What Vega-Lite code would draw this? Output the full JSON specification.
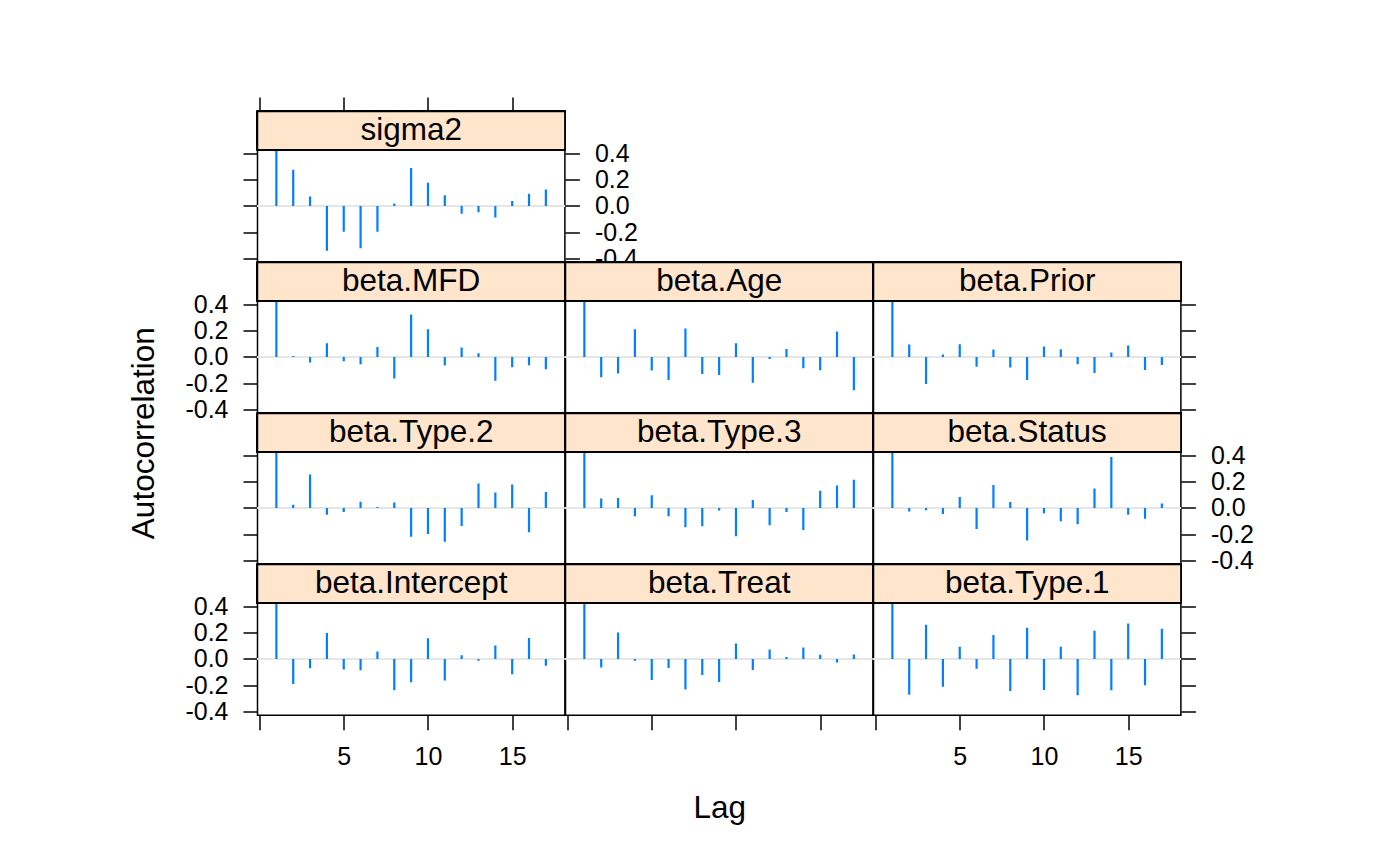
{
  "$schema": "https://vega.github.io/schema/vega-lite/v6.json",
  "padding": {"left": 126.5, "top": 95.5, "right": 5, "bottom": 5},
  "background": "white",
  "config": {
    "font": "Liberation Sans",
    "view": {"stroke": "black", "strokeWidth": 1.5},
    "concat": {"spacing": 0},
    "axis": {
      "domain": false, "grid": false, "ticks": true,
      "tickColor": "black", "tickWidth": 1.5, "tickSize": 14.5,
      "labelFont": "Liberation Sans", "labelFontSize": 25, "labelColor": "black",
      "labelPadding": 15, "labelOverlap": false, "labelFlush": false,
      "titleFont": "Liberation Sans", "titleFontSize": 31.5, "titleFontWeight": "normal", "titleColor": "black"
    }
  },
  "data": {"values": [
    {"panel":"sigma2","lag":1,"acf":1},{"panel":"sigma2","lag":2,"acf":0.275},{"panel":"sigma2","lag":3,"acf":0.071},{"panel":"sigma2","lag":4,"acf":-0.341},{"panel":"sigma2","lag":5,"acf":-0.196},{"panel":"sigma2","lag":6,"acf":-0.323},{"panel":"sigma2","lag":7,"acf":-0.196},{"panel":"sigma2","lag":8,"acf":0.018},{"panel":"sigma2","lag":9,"acf":0.288},{"panel":"sigma2","lag":10,"acf":0.176},{"panel":"sigma2","lag":11,"acf":0.081},{"panel":"sigma2","lag":12,"acf":-0.059},{"panel":"sigma2","lag":13,"acf":-0.048},{"panel":"sigma2","lag":14,"acf":-0.089},{"panel":"sigma2","lag":15,"acf":0.038},{"panel":"sigma2","lag":16,"acf":0.092},{"panel":"sigma2","lag":17,"acf":0.125},
    {"panel":"beta.MFD","lag":1,"acf":1},{"panel":"beta.MFD","lag":2,"acf":0.008},{"panel":"beta.MFD","lag":3,"acf":-0.043},{"panel":"beta.MFD","lag":4,"acf":0.104},{"panel":"beta.MFD","lag":5,"acf":-0.033},{"panel":"beta.MFD","lag":6,"acf":-0.056},{"panel":"beta.MFD","lag":7,"acf":0.076},{"panel":"beta.MFD","lag":8,"acf":-0.165},{"panel":"beta.MFD","lag":9,"acf":0.323},{"panel":"beta.MFD","lag":10,"acf":0.211},{"panel":"beta.MFD","lag":11,"acf":-0.066},{"panel":"beta.MFD","lag":12,"acf":0.071},{"panel":"beta.MFD","lag":13,"acf":0.028},{"panel":"beta.MFD","lag":14,"acf":-0.181},{"panel":"beta.MFD","lag":15,"acf":-0.079},{"panel":"beta.MFD","lag":16,"acf":-0.064},{"panel":"beta.MFD","lag":17,"acf":-0.094},
    {"panel":"beta.Age","lag":1,"acf":1},{"panel":"beta.Age","lag":2,"acf":-0.155},{"panel":"beta.Age","lag":3,"acf":-0.127},{"panel":"beta.Age","lag":4,"acf":0.211},{"panel":"beta.Age","lag":5,"acf":-0.104},{"panel":"beta.Age","lag":6,"acf":-0.176},{"panel":"beta.Age","lag":7,"acf":0.216},{"panel":"beta.Age","lag":8,"acf":-0.13},{"panel":"beta.Age","lag":9,"acf":-0.137},{"panel":"beta.Age","lag":10,"acf":0.104},{"panel":"beta.Age","lag":11,"acf":-0.196},{"panel":"beta.Age","lag":12,"acf":-0.015},{"panel":"beta.Age","lag":13,"acf":0.061},{"panel":"beta.Age","lag":14,"acf":-0.087},{"panel":"beta.Age","lag":15,"acf":-0.102},{"panel":"beta.Age","lag":16,"acf":0.193},{"panel":"beta.Age","lag":17,"acf":-0.254},
    {"panel":"beta.Prior","lag":1,"acf":1},{"panel":"beta.Prior","lag":2,"acf":0.094},{"panel":"beta.Prior","lag":3,"acf":-0.206},{"panel":"beta.Prior","lag":4,"acf":0.018},{"panel":"beta.Prior","lag":5,"acf":0.097},{"panel":"beta.Prior","lag":6,"acf":-0.074},{"panel":"beta.Prior","lag":7,"acf":0.056},{"panel":"beta.Prior","lag":8,"acf":-0.081},{"panel":"beta.Prior","lag":9,"acf":-0.176},{"panel":"beta.Prior","lag":10,"acf":0.079},{"panel":"beta.Prior","lag":11,"acf":0.059},{"panel":"beta.Prior","lag":12,"acf":-0.056},{"panel":"beta.Prior","lag":13,"acf":-0.122},{"panel":"beta.Prior","lag":14,"acf":0.033},{"panel":"beta.Prior","lag":15,"acf":0.087},{"panel":"beta.Prior","lag":16,"acf":-0.099},{"panel":"beta.Prior","lag":17,"acf":-0.061},
    {"panel":"beta.Type.2","lag":1,"acf":1},{"panel":"beta.Type.2","lag":2,"acf":0.025},{"panel":"beta.Type.2","lag":3,"acf":0.254},{"panel":"beta.Type.2","lag":4,"acf":-0.051},{"panel":"beta.Type.2","lag":5,"acf":-0.031},{"panel":"beta.Type.2","lag":6,"acf":0.048},{"panel":"beta.Type.2","lag":7,"acf":0.008},{"panel":"beta.Type.2","lag":8,"acf":0.041},{"panel":"beta.Type.2","lag":9,"acf":-0.219},{"panel":"beta.Type.2","lag":10,"acf":-0.198},{"panel":"beta.Type.2","lag":11,"acf":-0.257},{"panel":"beta.Type.2","lag":12,"acf":-0.137},{"panel":"beta.Type.2","lag":13,"acf":0.186},{"panel":"beta.Type.2","lag":14,"acf":0.117},{"panel":"beta.Type.2","lag":15,"acf":0.178},{"panel":"beta.Type.2","lag":16,"acf":-0.186},{"panel":"beta.Type.2","lag":17,"acf":0.122},
    {"panel":"beta.Type.3","lag":1,"acf":1},{"panel":"beta.Type.3","lag":2,"acf":0.071},{"panel":"beta.Type.3","lag":3,"acf":0.076},{"panel":"beta.Type.3","lag":4,"acf":-0.064},{"panel":"beta.Type.3","lag":5,"acf":0.097},{"panel":"beta.Type.3","lag":6,"acf":-0.064},{"panel":"beta.Type.3","lag":7,"acf":-0.148},{"panel":"beta.Type.3","lag":8,"acf":-0.14},{"panel":"beta.Type.3","lag":9,"acf":-0.02},{"panel":"beta.Type.3","lag":10,"acf":-0.216},{"panel":"beta.Type.3","lag":11,"acf":0.061},{"panel":"beta.Type.3","lag":12,"acf":-0.132},{"panel":"beta.Type.3","lag":13,"acf":-0.031},{"panel":"beta.Type.3","lag":14,"acf":-0.168},{"panel":"beta.Type.3","lag":15,"acf":0.13},{"panel":"beta.Type.3","lag":16,"acf":0.17},{"panel":"beta.Type.3","lag":17,"acf":0.214},
    {"panel":"beta.Status","lag":1,"acf":1},{"panel":"beta.Status","lag":2,"acf":-0.028},{"panel":"beta.Status","lag":3,"acf":-0.018},{"panel":"beta.Status","lag":4,"acf":-0.046},{"panel":"beta.Status","lag":5,"acf":0.084},{"panel":"beta.Status","lag":6,"acf":-0.161},{"panel":"beta.Status","lag":7,"acf":0.174},{"panel":"beta.Status","lag":8,"acf":0.046},{"panel":"beta.Status","lag":9,"acf":-0.248},{"panel":"beta.Status","lag":10,"acf":-0.041},{"panel":"beta.Status","lag":11,"acf":-0.102},{"panel":"beta.Status","lag":12,"acf":-0.125},{"panel":"beta.Status","lag":13,"acf":0.148},{"panel":"beta.Status","lag":14,"acf":0.388},{"panel":"beta.Status","lag":15,"acf":-0.051},{"panel":"beta.Status","lag":16,"acf":-0.082},{"panel":"beta.Status","lag":17,"acf":0.033},
    {"panel":"beta.Intercept","lag":1,"acf":1},{"panel":"beta.Intercept","lag":2,"acf":-0.191},{"panel":"beta.Intercept","lag":3,"acf":-0.071},{"panel":"beta.Intercept","lag":4,"acf":0.198},{"panel":"beta.Intercept","lag":5,"acf":-0.081},{"panel":"beta.Intercept","lag":6,"acf":-0.087},{"panel":"beta.Intercept","lag":7,"acf":0.056},{"panel":"beta.Intercept","lag":8,"acf":-0.239},{"panel":"beta.Intercept","lag":9,"acf":-0.178},{"panel":"beta.Intercept","lag":10,"acf":0.158},{"panel":"beta.Intercept","lag":11,"acf":-0.165},{"panel":"beta.Intercept","lag":12,"acf":0.028},{"panel":"beta.Intercept","lag":13,"acf":-0.013},{"panel":"beta.Intercept","lag":14,"acf":0.102},{"panel":"beta.Intercept","lag":15,"acf":-0.117},{"panel":"beta.Intercept","lag":16,"acf":0.16},{"panel":"beta.Intercept","lag":17,"acf":-0.051},
    {"panel":"beta.Treat","lag":1,"acf":1},{"panel":"beta.Treat","lag":2,"acf":-0.066},{"panel":"beta.Treat","lag":3,"acf":0.201},{"panel":"beta.Treat","lag":4,"acf":-0.013},{"panel":"beta.Treat","lag":5,"acf":-0.16},{"panel":"beta.Treat","lag":6,"acf":-0.069},{"panel":"beta.Treat","lag":7,"acf":-0.232},{"panel":"beta.Treat","lag":8,"acf":-0.122},{"panel":"beta.Treat","lag":9,"acf":-0.176},{"panel":"beta.Treat","lag":10,"acf":0.117},{"panel":"beta.Treat","lag":11,"acf":-0.084},{"panel":"beta.Treat","lag":12,"acf":0.071},{"panel":"beta.Treat","lag":13,"acf":0.015},{"panel":"beta.Treat","lag":14,"acf":0.087},{"panel":"beta.Treat","lag":15,"acf":0.031},{"panel":"beta.Treat","lag":16,"acf":-0.028},{"panel":"beta.Treat","lag":17,"acf":0.033},
    {"panel":"beta.Type.1","lag":1,"acf":1},{"panel":"beta.Type.1","lag":2,"acf":-0.272},{"panel":"beta.Type.1","lag":3,"acf":0.26},{"panel":"beta.Type.1","lag":4,"acf":-0.211},{"panel":"beta.Type.1","lag":5,"acf":0.092},{"panel":"beta.Type.1","lag":6,"acf":-0.074},{"panel":"beta.Type.1","lag":7,"acf":0.183},{"panel":"beta.Type.1","lag":8,"acf":-0.244},{"panel":"beta.Type.1","lag":9,"acf":0.237},{"panel":"beta.Type.1","lag":10,"acf":-0.237},{"panel":"beta.Type.1","lag":11,"acf":0.092},{"panel":"beta.Type.1","lag":12,"acf":-0.277},{"panel":"beta.Type.1","lag":13,"acf":0.214},{"panel":"beta.Type.1","lag":14,"acf":-0.239},{"panel":"beta.Type.1","lag":15,"acf":0.27},{"panel":"beta.Type.1","lag":16,"acf":-0.201},{"panel":"beta.Type.1","lag":17,"acf":0.229}
  ]},
  "columns": 3,
  "bounds": "flush",
  "spacing": 0,
  "concat": [
    {
      "width": 307.4, "height": 150.65,
      "transform": [{"filter": "datum.panel == 'sigma2'"}],
      "resolve": {"axis": {"x": "independent", "y": "independent"}},
      "layer": [
        {"mark": {"type": "rule", "color": "#e6e6e6", "strokeWidth": 2}, "encoding": {"y": {"datum": 0, "type": "quantitative", "scale": {"domain": [-0.428, 0.719], "nice": false, "zero": false}, "axis": null}}},
        {"mark": {"type": "rule", "color": "#0080ff", "strokeWidth": 2.2, "clip": true}, "encoding": {
          "x": {"field": "lag", "type": "quantitative", "scale": {"domain": [-0.12, 18.13], "nice": false, "zero": false}, "axis": null},
          "y": {"field": "acf", "type": "quantitative", "scale": {"domain": [-0.428, 0.719], "nice": false, "zero": false}, "axis": {"orient": "left", "labels": false, "values": [-0.4, -0.2, 0, 0.2, 0.4], "title": null}},
          "y2": {"datum": 0}}},
        {"mark": {"type": "rect", "fill": "#ffe5cc", "stroke": "black", "strokeWidth": 1.5}, "encoding": {
          "x": {"datum": -0.12, "type": "quantitative", "scale": {"domain": [-0.12, 18.13], "nice": false, "zero": false}, "axis": null}, "x2": {"datum": 18.13},
          "y": {"datum": 0.428, "type": "quantitative", "scale": {"domain": [-0.428, 0.719], "nice": false, "zero": false}, "axis": null}, "y2": {"datum": 0.719}}},
        {"mark": {"type": "text", "fontSize": 31.5, "align": "center", "baseline": "middle", "color": "black"}, "transform": [{"filter": "datum.lag == 1"}], "encoding": {
          "x": {"datum": 9.005, "type": "quantitative", "scale": {"domain": [-0.12, 18.13], "nice": false, "zero": false}, "axis": {"orient": "top", "labels": false, "values": [0, 5, 10, 15], "title": null}},
          "y": {"datum": 0.5735, "type": "quantitative", "scale": {"domain": [-0.428, 0.719], "nice": false, "zero": false}, "axis": {"orient": "right", "values": [-0.4, -0.2, 0, 0.2, 0.4], "labelExpr": "datum.value < 0 ? '-' + format(-datum.value, '.1f') : format(datum.value, '.1f')", "title": null}},
          "text": {"field": "panel"}}}
      ]
    },
    {"width": 307.4, "height": 150.65, "view": {"stroke": null}, "transform": [{"filter": "false"}], "mark": {"type": "point", "opacity": 0}, "encoding": {}},
    {"width": 307.4, "height": 150.65, "view": {"stroke": null}, "transform": [{"filter": "false"}], "mark": {"type": "point", "opacity": 0}, "encoding": {}},
    {
      "width": 307.4, "height": 150.65,
      "transform": [{"filter": "datum.panel == 'beta.MFD'"}],
      "resolve": {"axis": {"x": "independent", "y": "independent"}},
      "layer": [
        {"mark": {"type": "rule", "color": "#e6e6e6", "strokeWidth": 2}, "encoding": {"y": {"datum": 0, "type": "quantitative", "scale": {"domain": [-0.428, 0.719], "nice": false, "zero": false}, "axis": null}}},
        {"mark": {"type": "rule", "color": "#0080ff", "strokeWidth": 2.2, "clip": true}, "encoding": {
          "x": {"field": "lag", "type": "quantitative", "scale": {"domain": [-0.12, 18.13], "nice": false, "zero": false}, "axis": null},
          "y": {"field": "acf", "type": "quantitative", "scale": {"domain": [-0.428, 0.719], "nice": false, "zero": false}, "axis": {"orient": "left", "values": [-0.4, -0.2, 0, 0.2, 0.4], "labelExpr": "datum.value < 0 ? '-' + format(-datum.value, '.1f') : format(datum.value, '.1f')", "title": "Autocorrelation", "titleX": -104.4, "titleY": 170.2, "titleAngle": 270, "titleAlign": "center", "titleBaseline": "alphabetic"}},
          "y2": {"datum": 0}}},
        {"mark": {"type": "rect", "fill": "#ffe5cc", "stroke": "black", "strokeWidth": 1.5}, "encoding": {
          "x": {"datum": -0.12, "type": "quantitative", "scale": {"domain": [-0.12, 18.13], "nice": false, "zero": false}, "axis": null}, "x2": {"datum": 18.13},
          "y": {"datum": 0.428, "type": "quantitative", "scale": {"domain": [-0.428, 0.719], "nice": false, "zero": false}, "axis": null}, "y2": {"datum": 0.719}}},
        {"mark": {"type": "text", "fontSize": 31.5, "align": "center", "baseline": "middle", "color": "black"}, "transform": [{"filter": "datum.lag == 1"}], "encoding": {
          "x": {"datum": 9.005, "type": "quantitative", "scale": {"domain": [-0.12, 18.13], "nice": false, "zero": false}, "axis": null},
          "y": {"datum": 0.5735, "type": "quantitative", "scale": {"domain": [-0.428, 0.719], "nice": false, "zero": false}, "axis": null},
          "text": {"field": "panel"}}}
      ]
    },
    {
      "width": 307.4, "height": 150.65,
      "transform": [{"filter": "datum.panel == 'beta.Age'"}],
      "resolve": {"axis": {"x": "independent", "y": "independent"}},
      "layer": [
        {"mark": {"type": "rule", "color": "#e6e6e6", "strokeWidth": 2}, "encoding": {"y": {"datum": 0, "type": "quantitative", "scale": {"domain": [-0.428, 0.719], "nice": false, "zero": false}, "axis": null}}},
        {"mark": {"type": "rule", "color": "#0080ff", "strokeWidth": 2.2, "clip": true}, "encoding": {
          "x": {"field": "lag", "type": "quantitative", "scale": {"domain": [-0.12, 18.13], "nice": false, "zero": false}, "axis": null},
          "y": {"field": "acf", "type": "quantitative", "scale": {"domain": [-0.428, 0.719], "nice": false, "zero": false}, "axis": null},
          "y2": {"datum": 0}}},
        {"mark": {"type": "rect", "fill": "#ffe5cc", "stroke": "black", "strokeWidth": 1.5}, "encoding": {
          "x": {"datum": -0.12, "type": "quantitative", "scale": {"domain": [-0.12, 18.13], "nice": false, "zero": false}, "axis": null}, "x2": {"datum": 18.13},
          "y": {"datum": 0.428, "type": "quantitative", "scale": {"domain": [-0.428, 0.719], "nice": false, "zero": false}, "axis": null}, "y2": {"datum": 0.719}}},
        {"mark": {"type": "text", "fontSize": 31.5, "align": "center", "baseline": "middle", "color": "black"}, "transform": [{"filter": "datum.lag == 1"}], "encoding": {
          "x": {"datum": 9.005, "type": "quantitative", "scale": {"domain": [-0.12, 18.13], "nice": false, "zero": false}, "axis": null},
          "y": {"datum": 0.5735, "type": "quantitative", "scale": {"domain": [-0.428, 0.719], "nice": false, "zero": false}, "axis": null},
          "text": {"field": "panel"}}}
      ]
    },
    {
      "width": 307.4, "height": 150.65,
      "transform": [{"filter": "datum.panel == 'beta.Prior'"}],
      "resolve": {"axis": {"x": "independent", "y": "independent"}},
      "layer": [
        {"mark": {"type": "rule", "color": "#e6e6e6", "strokeWidth": 2}, "encoding": {"y": {"datum": 0, "type": "quantitative", "scale": {"domain": [-0.428, 0.719], "nice": false, "zero": false}, "axis": null}}},
        {"mark": {"type": "rule", "color": "#0080ff", "strokeWidth": 2.2, "clip": true}, "encoding": {
          "x": {"field": "lag", "type": "quantitative", "scale": {"domain": [-0.12, 18.13], "nice": false, "zero": false}, "axis": null},
          "y": {"field": "acf", "type": "quantitative", "scale": {"domain": [-0.428, 0.719], "nice": false, "zero": false}, "axis": {"orient": "right", "labels": false, "values": [-0.4, -0.2, 0, 0.2, 0.4], "title": null}},
          "y2": {"datum": 0}}},
        {"mark": {"type": "rect", "fill": "#ffe5cc", "stroke": "black", "strokeWidth": 1.5}, "encoding": {
          "x": {"datum": -0.12, "type": "quantitative", "scale": {"domain": [-0.12, 18.13], "nice": false, "zero": false}, "axis": null}, "x2": {"datum": 18.13},
          "y": {"datum": 0.428, "type": "quantitative", "scale": {"domain": [-0.428, 0.719], "nice": false, "zero": false}, "axis": null}, "y2": {"datum": 0.719}}},
        {"mark": {"type": "text", "fontSize": 31.5, "align": "center", "baseline": "middle", "color": "black"}, "transform": [{"filter": "datum.lag == 1"}], "encoding": {
          "x": {"datum": 9.005, "type": "quantitative", "scale": {"domain": [-0.12, 18.13], "nice": false, "zero": false}, "axis": null},
          "y": {"datum": 0.5735, "type": "quantitative", "scale": {"domain": [-0.428, 0.719], "nice": false, "zero": false}, "axis": null},
          "text": {"field": "panel"}}}
      ]
    },
    {
      "width": 307.4, "height": 150.65,
      "transform": [{"filter": "datum.panel == 'beta.Type.2'"}],
      "resolve": {"axis": {"x": "independent", "y": "independent"}},
      "layer": [
        {"mark": {"type": "rule", "color": "#e6e6e6", "strokeWidth": 2}, "encoding": {"y": {"datum": 0, "type": "quantitative", "scale": {"domain": [-0.428, 0.719], "nice": false, "zero": false}, "axis": null}}},
        {"mark": {"type": "rule", "color": "#0080ff", "strokeWidth": 2.2, "clip": true}, "encoding": {
          "x": {"field": "lag", "type": "quantitative", "scale": {"domain": [-0.12, 18.13], "nice": false, "zero": false}, "axis": null},
          "y": {"field": "acf", "type": "quantitative", "scale": {"domain": [-0.428, 0.719], "nice": false, "zero": false}, "axis": {"orient": "left", "labels": false, "values": [-0.4, -0.2, 0, 0.2, 0.4], "title": null}},
          "y2": {"datum": 0}}},
        {"mark": {"type": "rect", "fill": "#ffe5cc", "stroke": "black", "strokeWidth": 1.5}, "encoding": {
          "x": {"datum": -0.12, "type": "quantitative", "scale": {"domain": [-0.12, 18.13], "nice": false, "zero": false}, "axis": null}, "x2": {"datum": 18.13},
          "y": {"datum": 0.428, "type": "quantitative", "scale": {"domain": [-0.428, 0.719], "nice": false, "zero": false}, "axis": null}, "y2": {"datum": 0.719}}},
        {"mark": {"type": "text", "fontSize": 31.5, "align": "center", "baseline": "middle", "color": "black"}, "transform": [{"filter": "datum.lag == 1"}], "encoding": {
          "x": {"datum": 9.005, "type": "quantitative", "scale": {"domain": [-0.12, 18.13], "nice": false, "zero": false}, "axis": null},
          "y": {"datum": 0.5735, "type": "quantitative", "scale": {"domain": [-0.428, 0.719], "nice": false, "zero": false}, "axis": null},
          "text": {"field": "panel"}}}
      ]
    },
    {
      "width": 307.4, "height": 150.65,
      "transform": [{"filter": "datum.panel == 'beta.Type.3'"}],
      "resolve": {"axis": {"x": "independent", "y": "independent"}},
      "layer": [
        {"mark": {"type": "rule", "color": "#e6e6e6", "strokeWidth": 2}, "encoding": {"y": {"datum": 0, "type": "quantitative", "scale": {"domain": [-0.428, 0.719], "nice": false, "zero": false}, "axis": null}}},
        {"mark": {"type": "rule", "color": "#0080ff", "strokeWidth": 2.2, "clip": true}, "encoding": {
          "x": {"field": "lag", "type": "quantitative", "scale": {"domain": [-0.12, 18.13], "nice": false, "zero": false}, "axis": null},
          "y": {"field": "acf", "type": "quantitative", "scale": {"domain": [-0.428, 0.719], "nice": false, "zero": false}, "axis": null},
          "y2": {"datum": 0}}},
        {"mark": {"type": "rect", "fill": "#ffe5cc", "stroke": "black", "strokeWidth": 1.5}, "encoding": {
          "x": {"datum": -0.12, "type": "quantitative", "scale": {"domain": [-0.12, 18.13], "nice": false, "zero": false}, "axis": null}, "x2": {"datum": 18.13},
          "y": {"datum": 0.428, "type": "quantitative", "scale": {"domain": [-0.428, 0.719], "nice": false, "zero": false}, "axis": null}, "y2": {"datum": 0.719}}},
        {"mark": {"type": "text", "fontSize": 31.5, "align": "center", "baseline": "middle", "color": "black"}, "transform": [{"filter": "datum.lag == 1"}], "encoding": {
          "x": {"datum": 9.005, "type": "quantitative", "scale": {"domain": [-0.12, 18.13], "nice": false, "zero": false}, "axis": null},
          "y": {"datum": 0.5735, "type": "quantitative", "scale": {"domain": [-0.428, 0.719], "nice": false, "zero": false}, "axis": null},
          "text": {"field": "panel"}}}
      ]
    },
    {
      "width": 307.4, "height": 150.65,
      "transform": [{"filter": "datum.panel == 'beta.Status'"}],
      "resolve": {"axis": {"x": "independent", "y": "independent"}},
      "layer": [
        {"mark": {"type": "rule", "color": "#e6e6e6", "strokeWidth": 2}, "encoding": {"y": {"datum": 0, "type": "quantitative", "scale": {"domain": [-0.428, 0.719], "nice": false, "zero": false}, "axis": null}}},
        {"mark": {"type": "rule", "color": "#0080ff", "strokeWidth": 2.2, "clip": true}, "encoding": {
          "x": {"field": "lag", "type": "quantitative", "scale": {"domain": [-0.12, 18.13], "nice": false, "zero": false}, "axis": null},
          "y": {"field": "acf", "type": "quantitative", "scale": {"domain": [-0.428, 0.719], "nice": false, "zero": false}, "axis": {"orient": "right", "values": [-0.4, -0.2, 0, 0.2, 0.4], "labelExpr": "datum.value < 0 ? '-' + format(-datum.value, '.1f') : format(datum.value, '.1f')", "title": null}},
          "y2": {"datum": 0}}},
        {"mark": {"type": "rect", "fill": "#ffe5cc", "stroke": "black", "strokeWidth": 1.5}, "encoding": {
          "x": {"datum": -0.12, "type": "quantitative", "scale": {"domain": [-0.12, 18.13], "nice": false, "zero": false}, "axis": null}, "x2": {"datum": 18.13},
          "y": {"datum": 0.428, "type": "quantitative", "scale": {"domain": [-0.428, 0.719], "nice": false, "zero": false}, "axis": null}, "y2": {"datum": 0.719}}},
        {"mark": {"type": "text", "fontSize": 31.5, "align": "center", "baseline": "middle", "color": "black"}, "transform": [{"filter": "datum.lag == 1"}], "encoding": {
          "x": {"datum": 9.005, "type": "quantitative", "scale": {"domain": [-0.12, 18.13], "nice": false, "zero": false}, "axis": null},
          "y": {"datum": 0.5735, "type": "quantitative", "scale": {"domain": [-0.428, 0.719], "nice": false, "zero": false}, "axis": null},
          "text": {"field": "panel"}}}
      ]
    },
    {
      "width": 307.4, "height": 150.65,
      "transform": [{"filter": "datum.panel == 'beta.Intercept'"}],
      "resolve": {"axis": {"x": "independent", "y": "independent"}},
      "layer": [
        {"mark": {"type": "rule", "color": "#e6e6e6", "strokeWidth": 2}, "encoding": {"y": {"datum": 0, "type": "quantitative", "scale": {"domain": [-0.428, 0.719], "nice": false, "zero": false}, "axis": null}}},
        {"mark": {"type": "rule", "color": "#0080ff", "strokeWidth": 2.2, "clip": true}, "encoding": {
          "x": {"field": "lag", "type": "quantitative", "scale": {"domain": [-0.12, 18.13], "nice": false, "zero": false}, "axis": {"orient": "bottom", "values": [0, 5, 10, 15], "labelExpr": "datum.value == 0 ? '' : datum.label", "title": null}},
          "y": {"field": "acf", "type": "quantitative", "scale": {"domain": [-0.428, 0.719], "nice": false, "zero": false}, "axis": {"orient": "left", "values": [-0.4, -0.2, 0, 0.2, 0.4], "labelExpr": "datum.value < 0 ? '-' + format(-datum.value, '.1f') : format(datum.value, '.1f')", "title": null}},
          "y2": {"datum": 0}}},
        {"mark": {"type": "rect", "fill": "#ffe5cc", "stroke": "black", "strokeWidth": 1.5}, "encoding": {
          "x": {"datum": -0.12, "type": "quantitative", "scale": {"domain": [-0.12, 18.13], "nice": false, "zero": false}, "axis": null}, "x2": {"datum": 18.13},
          "y": {"datum": 0.428, "type": "quantitative", "scale": {"domain": [-0.428, 0.719], "nice": false, "zero": false}, "axis": null}, "y2": {"datum": 0.719}}},
        {"mark": {"type": "text", "fontSize": 31.5, "align": "center", "baseline": "middle", "color": "black"}, "transform": [{"filter": "datum.lag == 1"}], "encoding": {
          "x": {"datum": 9.005, "type": "quantitative", "scale": {"domain": [-0.12, 18.13], "nice": false, "zero": false}, "axis": null},
          "y": {"datum": 0.5735, "type": "quantitative", "scale": {"domain": [-0.428, 0.719], "nice": false, "zero": false}, "axis": null},
          "text": {"field": "panel"}}}
      ]
    },
    {
      "width": 307.4, "height": 150.65,
      "transform": [{"filter": "datum.panel == 'beta.Treat'"}],
      "resolve": {"axis": {"x": "independent", "y": "independent"}},
      "layer": [
        {"mark": {"type": "rule", "color": "#e6e6e6", "strokeWidth": 2}, "encoding": {"y": {"datum": 0, "type": "quantitative", "scale": {"domain": [-0.428, 0.719], "nice": false, "zero": false}, "axis": null}}},
        {"mark": {"type": "rule", "color": "#0080ff", "strokeWidth": 2.2, "clip": true}, "encoding": {
          "x": {"field": "lag", "type": "quantitative", "scale": {"domain": [-0.12, 18.13], "nice": false, "zero": false}, "axis": {"orient": "bottom", "labels": false, "values": [0, 5, 10, 15], "title": "Lag", "titleY": 102.7, "titleAlign": "center", "titleBaseline": "alphabetic"}},
          "y": {"field": "acf", "type": "quantitative", "scale": {"domain": [-0.428, 0.719], "nice": false, "zero": false}, "axis": null},
          "y2": {"datum": 0}}},
        {"mark": {"type": "rect", "fill": "#ffe5cc", "stroke": "black", "strokeWidth": 1.5}, "encoding": {
          "x": {"datum": -0.12, "type": "quantitative", "scale": {"domain": [-0.12, 18.13], "nice": false, "zero": false}, "axis": null}, "x2": {"datum": 18.13},
          "y": {"datum": 0.428, "type": "quantitative", "scale": {"domain": [-0.428, 0.719], "nice": false, "zero": false}, "axis": null}, "y2": {"datum": 0.719}}},
        {"mark": {"type": "text", "fontSize": 31.5, "align": "center", "baseline": "middle", "color": "black"}, "transform": [{"filter": "datum.lag == 1"}], "encoding": {
          "x": {"datum": 9.005, "type": "quantitative", "scale": {"domain": [-0.12, 18.13], "nice": false, "zero": false}, "axis": null},
          "y": {"datum": 0.5735, "type": "quantitative", "scale": {"domain": [-0.428, 0.719], "nice": false, "zero": false}, "axis": null},
          "text": {"field": "panel"}}}
      ]
    },
    {
      "width": 307.4, "height": 150.65,
      "transform": [{"filter": "datum.panel == 'beta.Type.1'"}],
      "resolve": {"axis": {"x": "independent", "y": "independent"}},
      "layer": [
        {"mark": {"type": "rule", "color": "#e6e6e6", "strokeWidth": 2}, "encoding": {"y": {"datum": 0, "type": "quantitative", "scale": {"domain": [-0.428, 0.719], "nice": false, "zero": false}, "axis": null}}},
        {"mark": {"type": "rule", "color": "#0080ff", "strokeWidth": 2.2, "clip": true}, "encoding": {
          "x": {"field": "lag", "type": "quantitative", "scale": {"domain": [-0.12, 18.13], "nice": false, "zero": false}, "axis": {"orient": "bottom", "values": [0, 5, 10, 15], "labelExpr": "datum.value == 0 ? '' : datum.label", "title": null}},
          "y": {"field": "acf", "type": "quantitative", "scale": {"domain": [-0.428, 0.719], "nice": false, "zero": false}, "axis": {"orient": "right", "labels": false, "values": [-0.4, -0.2, 0, 0.2, 0.4], "title": null}},
          "y2": {"datum": 0}}},
        {"mark": {"type": "rect", "fill": "#ffe5cc", "stroke": "black", "strokeWidth": 1.5}, "encoding": {
          "x": {"datum": -0.12, "type": "quantitative", "scale": {"domain": [-0.12, 18.13], "nice": false, "zero": false}, "axis": null}, "x2": {"datum": 18.13},
          "y": {"datum": 0.428, "type": "quantitative", "scale": {"domain": [-0.428, 0.719], "nice": false, "zero": false}, "axis": null}, "y2": {"datum": 0.719}}},
        {"mark": {"type": "text", "fontSize": 31.5, "align": "center", "baseline": "middle", "color": "black"}, "transform": [{"filter": "datum.lag == 1"}], "encoding": {
          "x": {"datum": 9.005, "type": "quantitative", "scale": {"domain": [-0.12, 18.13], "nice": false, "zero": false}, "axis": null},
          "y": {"datum": 0.5735, "type": "quantitative", "scale": {"domain": [-0.428, 0.719], "nice": false, "zero": false}, "axis": null},
          "text": {"field": "panel"}}}
      ]
    }
  ]
}
